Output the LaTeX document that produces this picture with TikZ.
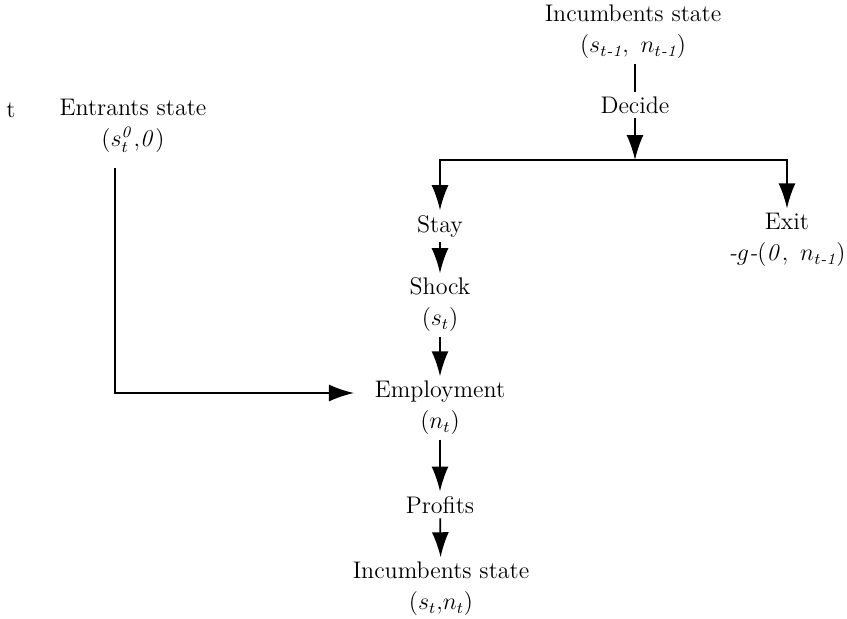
\documentclass[tikz,border=0pt]{standalone}
\usepackage{amsmath}
\usepackage{tikz}
\usetikzlibrary{arrows.meta}

\begin{document}
\begin{tikzpicture}[x=0.5pt, y=-0.5pt, line width=0.9pt,
    every node/.style={font=\fontsize{12}{15.5}\selectfont},
    lbl/.style={align=center, inner sep=2pt},
    arr/.style={-{Latex[length=12.5pt,width=8.5pt]}}]
    \useasboundingbox (0,0) rectangle (847,618);
    % incumbents, period t-1
    \node[lbl] (inc0) at (633,32) {Incumbents state\\$(s_{t\textit{-1}},\ n_{t\textit{-1}})$};
    \node[lbl] (decide) at (635,105) {Decide};
    \coordinate (split) at (635,160);
    \node[lbl] (stay) at (440,226) {Stay};
    \node[lbl] (exit) at (787,240) {Exit\\$\textit{-}g\textit{-}(\mathit{0},\ n_{t\textit{-1}})$};
    \node[lbl] (shock) at (440,305) {Shock\\$(s_t)$};
    \node[lbl] (emp) at (440,408) {Employment\\$(n_t)$};
    \node[lbl] (profits) at (440,505) {Profits};
    \node[lbl] (inc1) at (441,589) {Incumbents state\\$(s_t{,}n_t)$};
    % entrants
    \node[lbl] (time) at (11,110) {t};
    \node[lbl] (entr) at (133,126) {Entrants state\\$(s^{\mathit{0}}_t{,}\mathit{0})$};
    \coordinate (ecorner) at (115,393);

    \draw (inc0.south -| decide) -- (decide);
    \draw[arr] (decide) -- (split);
    \draw[arr] (split) -| (stay);
    \draw[arr] (split) -| (exit);
    \draw[arr] (stay) -- (shock);
    \draw[arr] (shock) -- (emp);
    \draw[arr] (emp) -- (profits);
    \draw[arr] (profits) -- (inc1);
    \draw[arr, shorten <=5pt, shorten >=8pt] (entr.south -| ecorner) -- (ecorner) -- (ecorner -| emp.west);
\end{tikzpicture}
\end{document}
